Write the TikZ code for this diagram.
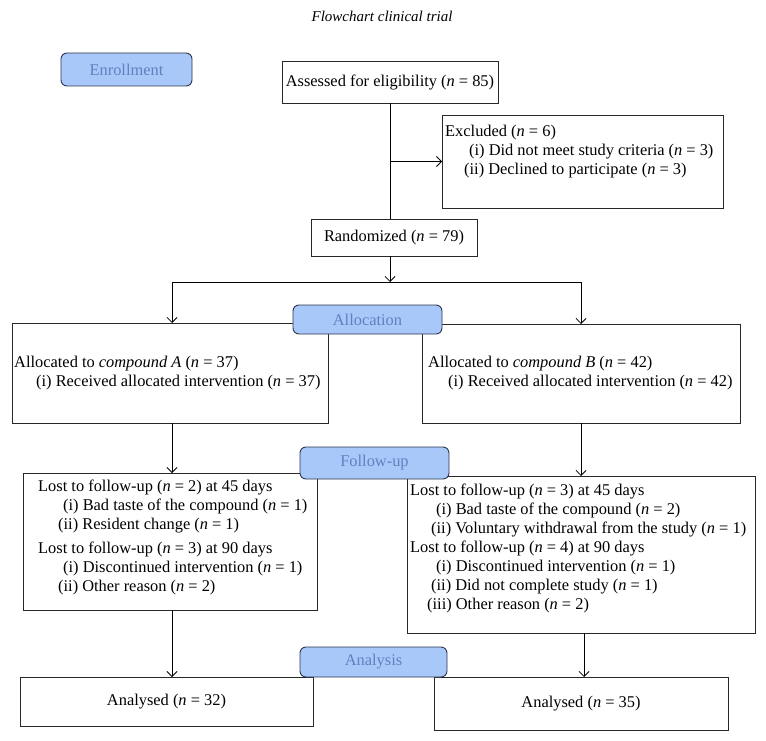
\documentclass[tikz,border=0pt]{standalone}
\usepackage{fontspec}
\setmainfont{Liberation Serif}
\usetikzlibrary{arrows.meta,fit}
\definecolor{labfill}{RGB}{168,200,250}
\definecolor{labtext}{RGB}{95,130,190}
\definecolor{labdraw}{RGB}{45,55,75}
\definecolor{boxdraw}{RGB}{40,40,40}
\newcommand\nEq[1]{(\textit{n}~=~#1)}
\begin{document}
\begin{tikzpicture}[x=1pt,y=-1pt,
  box/.style={draw=boxdraw, line width=0.8pt, inner sep=0pt, outer sep=0pt, fit={#1}},
  lab/.style={draw=labdraw, fill=labfill, line width=0.9pt, rounded corners=6pt, inner sep=0pt, outer sep=0pt, fit={#1}},
  labtxt/.style={inner sep=0pt, text=labtext, font=\fontsize{16.4}{19}\selectfont},
  ctxt/.style={inner sep=0pt, font=\fontsize{16.4}{19}\selectfont},
  txt/.style={align=left, inner sep=0pt, anchor=north west, font=\fontsize{16.4}{19}\selectfont},
  arr/.style={-{Straight Barb[length=5pt,width=10pt]}, line width=0.8pt},
  conn/.style={line width=0.8pt}
]
\useasboundingbox (0,0) rectangle (766,741);

\node[font=\itshape\fontsize{15}{18}\selectfont, inner sep=0pt] (title) at (382,16) {Flowchart clinical trial};

% boxes
\node[box={(282,61) (498,103)}] (assess) {};
\node[box={(442,115) (723,208)}] (excl) {};
\node[box={(311,219) (477,256)}] (rand) {};
\node[box={(12,323) (328,423)}] (allocA) {};
\node[box={(422,324) (740,423)}] (allocB) {};
\node[box={(23,473) (317,610)}] (lostA) {};
\node[box={(407,476) (755,633)}] (lostB) {};
\node[box={(20,677) (313,726)}] (anaA) {};
\node[box={(434,677) (728,730)}] (anaB) {};

% box texts
\node[ctxt] (assessT) at (assess.center) {Assessed for eligibility \nEq{85}};
\node[ctxt] (randT) at (rand.center) {Randomized \nEq{79}};
\node[ctxt] (anaAT) at (anaA.center) {Analysed \nEq{32}};
\node[ctxt] (anaBT) at (anaB.center) {Analysed \nEq{35}};
\node[txt] (exclT) at (445,125) {Excluded \nEq{6}\\\hspace*{24pt}(i) Did not meet study criteria \nEq{3}\\\hspace*{19pt}(ii) Declined to participate \nEq{3}};
\node[txt] (allocAT) at (14,356) {Allocated to \textit{compound A} \nEq{37}\\\hspace*{22pt}(i) Received allocated intervention \nEq{37}};
\node[txt] (allocBT) at (428,356) {Allocated to \textit{compound B} \nEq{42}\\\hspace*{20pt}(i) Received allocated intervention \nEq{42}};
\node[txt, font=\fontsize{16.4}{18.7}\selectfont] (lostAT) at (38,480) {Lost to follow-up \nEq{2} at 45 days\\\hspace*{25pt}(i) Bad taste of the compound \nEq{1}\\\hspace*{20pt}(ii) Resident change \nEq{1}\\[6pt]Lost to follow-up \nEq{3} at 90 days\\\hspace*{25pt}(i) Discontinued intervention \nEq{1}\\\hspace*{20pt}(ii) Other reason \nEq{2}};
\node[txt] (lostBT) at (410,484) {Lost to follow-up \nEq{3} at 45 days\\\hspace*{26pt}(i) Bad taste of the compound \nEq{2}\\\hspace*{21pt}(ii) Voluntary withdrawal from the study \nEq{1}\\Lost to follow-up \nEq{4} at 90 days\\\hspace*{26pt}(i) Discontinued intervention \nEq{1}\\\hspace*{21pt}(ii) Did not complete study \nEq{1}\\\hspace*{17pt}(iii) Other reason \nEq{2}};

% connectors
\coordinate (split) at (390,282);
\coordinate (splitL) at (172,282);
\coordinate (splitR) at (581,282);
\draw[conn] (assess.south) -- (assess.south |- rand.north);
\draw[arr] (assess.south |- excl.west) -- (excl.west);
\draw[arr] (assess.south |- rand.south) -- (split);
\draw[conn] (splitL) -- (splitR);
\draw[arr] (splitL) -- (splitL |- allocA.north);
\draw[arr] (splitR) -- (splitR |- allocB.north);
\draw[arr] (splitL |- allocA.south) -- (splitL |- lostA.north);
\draw[arr] (splitR |- allocB.south) -- (splitR |- lostB.north);
\draw[arr] (splitL |- lostA.south) -- (splitL |- anaA.north);
\draw[arr] ([xshift=3pt]lostB.south) -- ([xshift=3pt]lostB.south |- anaB.north);

% stage labels
\node[lab={(61,53) (192,86)}] (enr) {};
\node[lab={(293,305) (442,334)}] (alloc) {};
\node[lab={(300,447) (449,479)}] (fu) {};
\node[lab={(300,647) (447,677)}] (ana) {};
\node[labtxt] (enrT) at (enr.center) {Enrollment};
\node[labtxt] (allocT) at (alloc.center) {Allocation};
\node[labtxt] (fuT) at (fu.center) {Follow-up};
\node[labtxt] (anaT) at (ana.center) {Analysis};
\end{tikzpicture}
\end{document}
